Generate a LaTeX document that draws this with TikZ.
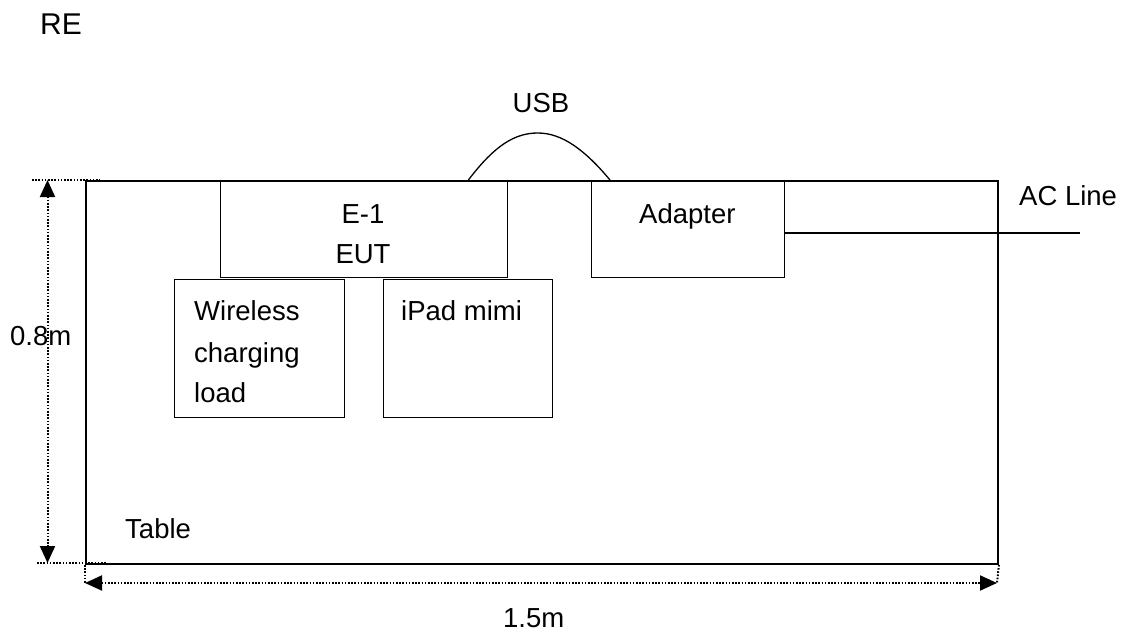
\documentclass[tikz,border=0pt]{standalone}
\usepackage{fontspec}
\setmainfont{Liberation Sans}
\usetikzlibrary{arrows.meta}
\begin{document}
\begin{tikzpicture}[x=1pt,y=-1pt,
  lbl/.style={anchor=base west, inner sep=0pt, font=\fontsize{27.5}{33}\selectfont},
  box/.style={draw, line width=1.4pt, inner sep=0pt, anchor=north west},
  dim/.style={line width=2pt, dash pattern=on 1.6pt off 1.6pt},
  dimarrow/.style={dim, {Triangle[length=17pt,width=15pt]}-{Triangle[length=17pt,width=15pt]}},
  wire/.style={line width=1.3pt}]
\useasboundingbox (0,0) rectangle (1125,634);
% boxes
\node[box, line width=1.9pt, minimum width=912pt, minimum height=383pt] (table) at (85,180) {};
\node[box, minimum width=287pt, minimum height=97pt] (eut) at (220,180) {};
\node[box, minimum width=170pt, minimum height=138pt] (wireless) at (174,279) {};
\node[box, minimum width=169pt, minimum height=138pt] (ipad) at (383,279) {};
\node[box, minimum width=193pt, minimum height=97pt] (adapter) at (591,180) {};
% labels
\node[lbl, font=\fontsize{30}{36}\selectfont] (re) at (40,35) {RE};
\node[lbl, anchor=base] (usb) at (541,113) {USB};
\node[lbl] (acl) at (1019,205) {AC Line};
\node[lbl, anchor=base] (e1) at (363,223) {E-1};
\node[lbl, anchor=base] (eutl) at (363,263) {EUT};
\node[lbl] (w1) at (194,320) {Wireless};
\node[lbl] (w2) at (194,362) {charging};
\node[lbl] (w3) at (194,402) {load};
\node[lbl] (ipl) at (401,320) {iPad mimi};
\node[lbl] (adl) at (639,223) {Adapter};
\node[lbl] (tbl) at (125,538) {Table};
\node[lbl] (h) at (10,345) {0.8m};
\node[lbl] (w) at (503,627) {1.5m};
% USB cable
\coordinate (usbtop) at (538,133);
\draw[wire] ([xshift=-40pt]eut.north east) .. controls (495,145) and (515,133) .. (usbtop)
  .. controls (562,133) and (585,150) .. ([xshift=19pt]adapter.north west);
% AC line
\coordinate (acend) at (1080,233);
\draw[line width=1.1pt] (adapter.east |- acend) -- (acend);
% dimensions
\coordinate (vt) at (47.5,180);
\coordinate (vb) at (47.5,563);
\coordinate (e1a) at (32,180);
\coordinate (e1b) at (100,180);
\coordinate (e2a) at (37,563);
\coordinate (e2b) at (107,563);
\draw[dim] (e1a) -- (e1b);
\draw[dim] (e2a) -- (e2b);
\draw[dimarrow] (vt) -- (vb);
\coordinate (hl) at (85,583);
\coordinate (hr) at (997,583);
\draw[dim] (table.south west) -- (hl);
\draw[dim] (table.south east) -- (hr);
\draw[dimarrow] (hl) -- (hr);
\end{tikzpicture}
\end{document}
